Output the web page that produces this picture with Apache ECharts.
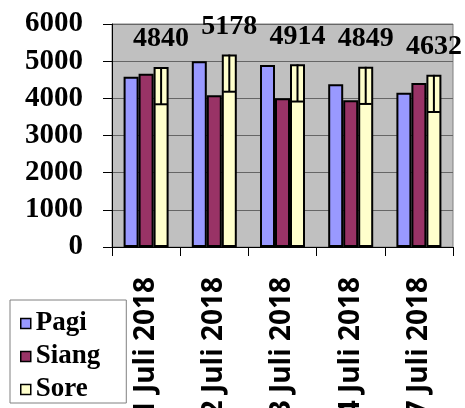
<!DOCTYPE html>
<html>
<head>
<meta charset="utf-8">
<script src="https://cdn.jsdelivr.net/npm/echarts@6/dist/echarts.min.js"></script>
<style>html,body{margin:0;padding:0;background:#fff;}#c{width:465px;height:408px;}</style>
</head>
<body>
<div id="c"></div>
<script>
var categories = ['1 Juli 2018', '2 Juli 2018', '3 Juli 2018', '4 Juli 2018', '7 Juli 2018'];
var pagi = [4580, 5000, 4900, 4380, 4150];
var siang = [4660, 4080, 4000, 3950, 4410];
var sore = [4840, 5178, 4914, 4849, 4632];
var soreErrorMinus = [1000, 1000, 1000, 1000, 1000];
var yTicks = [0, 1000, 2000, 3000, 4000, 5000, 6000];

var BAR_W = 15;
var SERIF = 'Liberation Serif';
var chart = echarts.init(document.getElementById('c'));
var errData = sore.map(function (v, i) { return [i, v, v - soreErrorMinus[i]]; });

chart.setOption({
  animation: false,
  backgroundColor: '#ffffff',
  textStyle: { fontFamily: SERIF },
  grid: { left: 112, right: 12, top: 24, bottom: 161, containLabel: false, outerBoundsMode: 'none',
    show: true, backgroundColor: '#C0C0C0', borderColor: '#808080', borderWidth: 1 },
  legend: {
    data: ['Pagi', 'Siang', 'Sore'],
    orient: 'vertical', left: 10, bottom: 5,
    padding: [10, 26, 0, 10],
    itemWidth: 10, itemHeight: 10, itemGap: 6,
    backgroundColor: '#ffffff', borderColor: '#808080', borderWidth: 1, borderRadius: 0,
    icon: 'rect',
    itemStyle: { borderColor: '#000', borderWidth: 1.5 },
    textStyle: { fontFamily: SERIF, fontWeight: 'bold', fontSize: 27, lineHeight: 24, color: '#000' }
  },
  xAxis: {
    type: 'category', data: categories,
    axisLine: { show: true, lineStyle: { color: '#000', width: 1 } },
    axisTick: { show: true, length: 9, lineStyle: { color: '#000' } },
    axisLabel: { rotate: 90, margin: 30, fontFamily: 'Open Sans', fontWeight: 'bold', fontSize: 28, color: '#000' }
  },
  yAxis: {
    type: 'value', min: 0, max: 6000, interval: 1000,
    axisLine: { show: true, lineStyle: { color: '#000', width: 1 } },
    axisTick: { show: true, length: 9, lineStyle: { color: '#000' } },
    splitLine: { show: true, lineStyle: { color: '#666666', width: 1 } },
    axisLabel: {
      margin: 29, fontFamily: SERIF, fontWeight: 'bold', fontSize: 29, color: '#000',
      formatter: function (v) { return yTicks.indexOf(v) >= 0 ? String(v) : ''; }
    }
  },
  series: [
    { name: 'Pagi', type: 'bar', data: pagi, barWidth: BAR_W, barGap: '0%',
      itemStyle: { color: '#9999FF', borderColor: '#000', borderWidth: 2 } },
    { name: 'Siang', type: 'bar', data: siang, barWidth: BAR_W, barGap: '0%',
      itemStyle: { color: '#993366', borderColor: '#000', borderWidth: 2 } },
    { name: 'Sore', type: 'bar', data: sore, barWidth: BAR_W, barGap: '0%',
      itemStyle: { color: '#FFFFCC', borderColor: '#000', borderWidth: 2 },
      label: { show: true, position: 'top', distance: 14, fontFamily: SERIF, fontWeight: 'bold', fontSize: 28, color: '#000' } },
    { name: 'err', type: 'custom', data: errData, z: 5,
      renderItem: function (params, api) {
        var i = api.value(0);
        var top = api.coord([i, api.value(1)]);
        var bot = api.coord([i, api.value(2)]);
        var x = top[0] + BAR_W;
        var half = 6;
        return { type: 'group', children: [
          { type: 'line', shape: { x1: x, y1: top[1], x2: x, y2: bot[1] }, style: { stroke: '#000', lineWidth: 2 } },
          { type: 'line', shape: { x1: x - half, y1: bot[1], x2: x + half, y2: bot[1] }, style: { stroke: '#000', lineWidth: 2 } }
        ] };
      } }
  ]
});
</script>
</body>
</html>
